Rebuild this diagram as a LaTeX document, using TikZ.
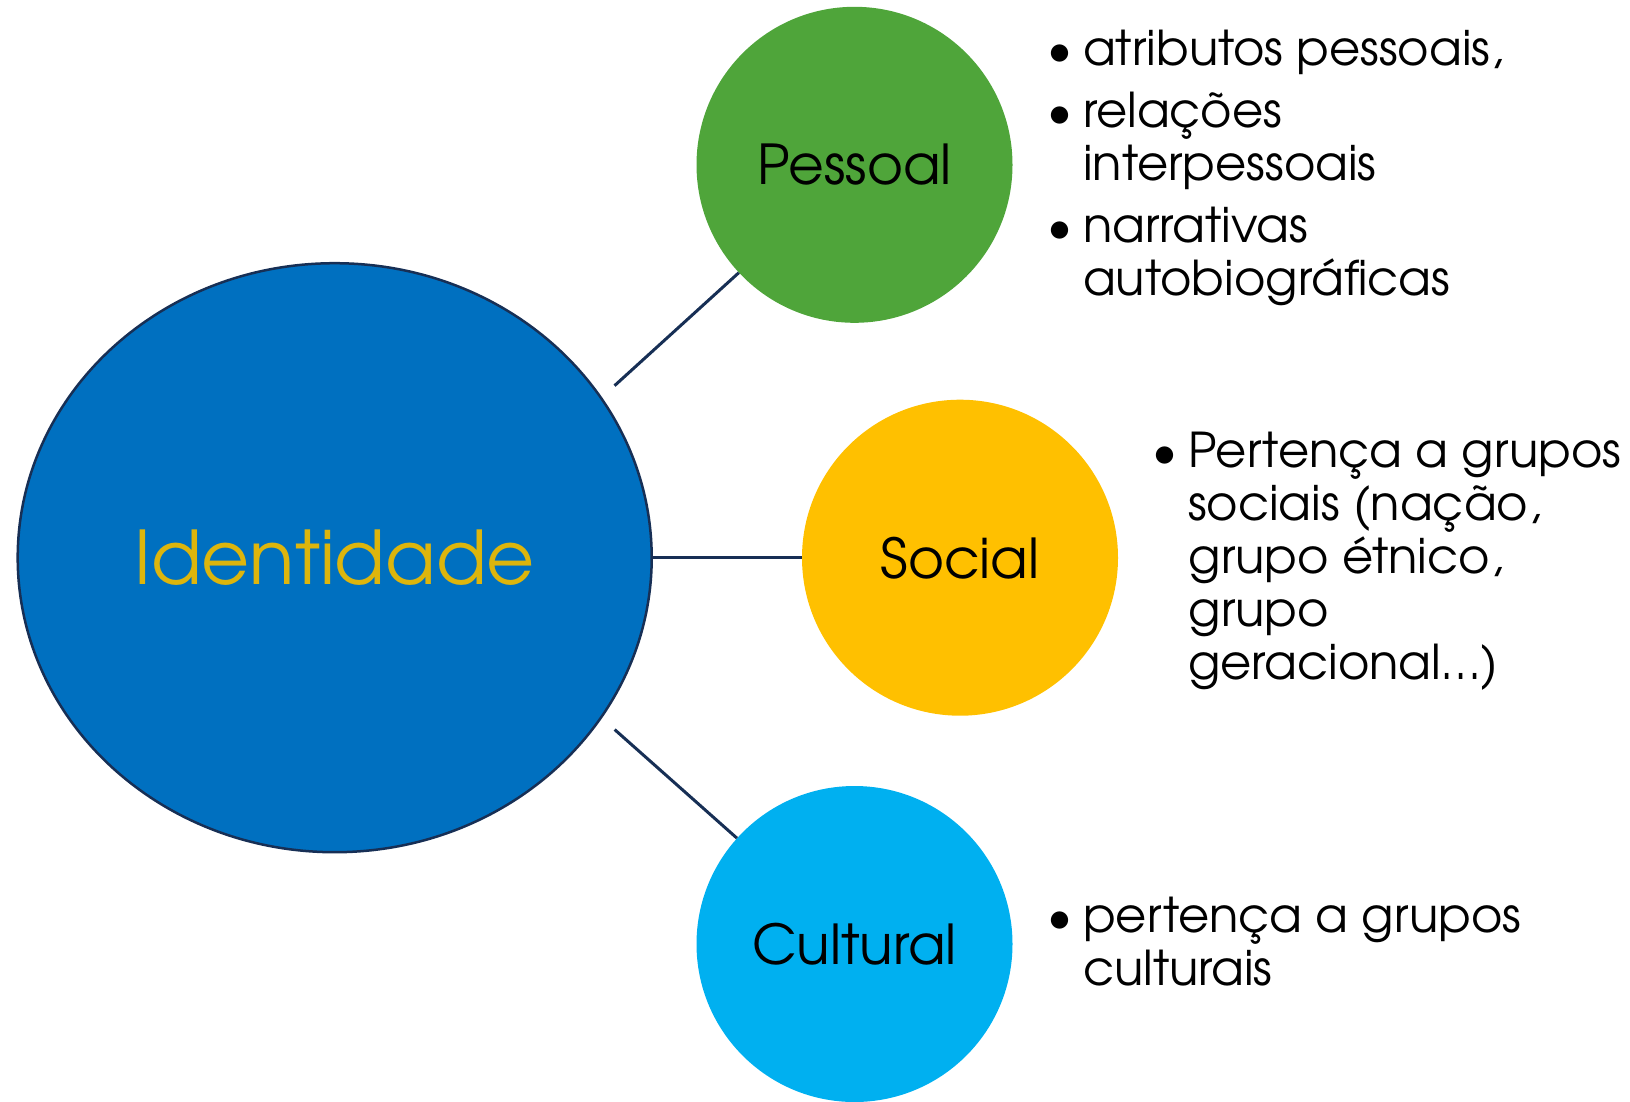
\documentclass[tikz,border=0pt]{standalone}
\usepackage{fontspec}
\setmainfont{TeX Gyre Adventor}
\usetikzlibrary{shapes.geometric}
\definecolor{idblue}{HTML}{0070C0}
\definecolor{idline}{HTML}{172F55}
\definecolor{idgold}{HTML}{DDB50C}
\definecolor{pgreen}{HTML}{4FA53A}
\definecolor{syellow}{HTML}{FFC000}
\definecolor{ccyan}{HTML}{00B0F0}
\newcommand\mybul{\llap{\textbullet\hspace{11pt}}}
\begin{document}
\begin{tikzpicture}[x=1pt,y=-1pt,
  circ/.style={circle, minimum size=316pt, inner sep=0pt, font=\fontsize{55}{60}\selectfont},
  conn/.style={draw=idline, line width=3pt},
  bl/.style={anchor=base west, inner sep=0pt, font=\fontsize{48}{52}\selectfont}]
\useasboundingbox (0,0) rectangle (1630,1101);
\node[ellipse, draw=idline, line width=2.5pt, fill=idblue, minimum width=634pt,
      minimum height=589pt, inner sep=0pt, text=idgold,
      font=\fontsize{74}{80}\selectfont] (id) at (334.7,557.7) {Identidade};
\node[circ, fill=pgreen] (pe) at (854.5,164.8) {Pessoal};
\node[circ, fill=syellow] (so) at (960,557.7) {Social};
\node[circ, fill=ccyan] (cu) at (854.5,944) {Cultural};
\draw[conn, shorten <=17pt] (id.31) -- (pe.223);
\draw[conn] (id.east) -- (so.west);
\draw[conn, shorten <=17pt] (id.-31) -- (cu.138);
\node[bl] (p1) at (1083,65.5) {\mybul atributos pessoais,};
\node[bl] (p2) at (1083,127) {\mybul relações};
\node[bl] (p3) at (1083,180) {interpessoais};
\node[bl] (p4) at (1083,242) {\mybul narrativas};
\node[bl] (p5) at (1083,295) {autobiográficas};
\node[bl] (s1) at (1188,467) {\mybul Pertença a grupos};
\node[bl] (s2) at (1188,520) {sociais (nação,};
\node[bl] (s3) at (1188,573) {grupo étnico,};
\node[bl] (s4) at (1188,626) {grupo};
\node[bl] (s5) at (1188,679) {geracional…)};
\node[bl] (c1) at (1083,932) {\mybul pertença a grupos};
\node[bl] (c2) at (1083,985) {culturais};
\end{tikzpicture}
\end{document}
